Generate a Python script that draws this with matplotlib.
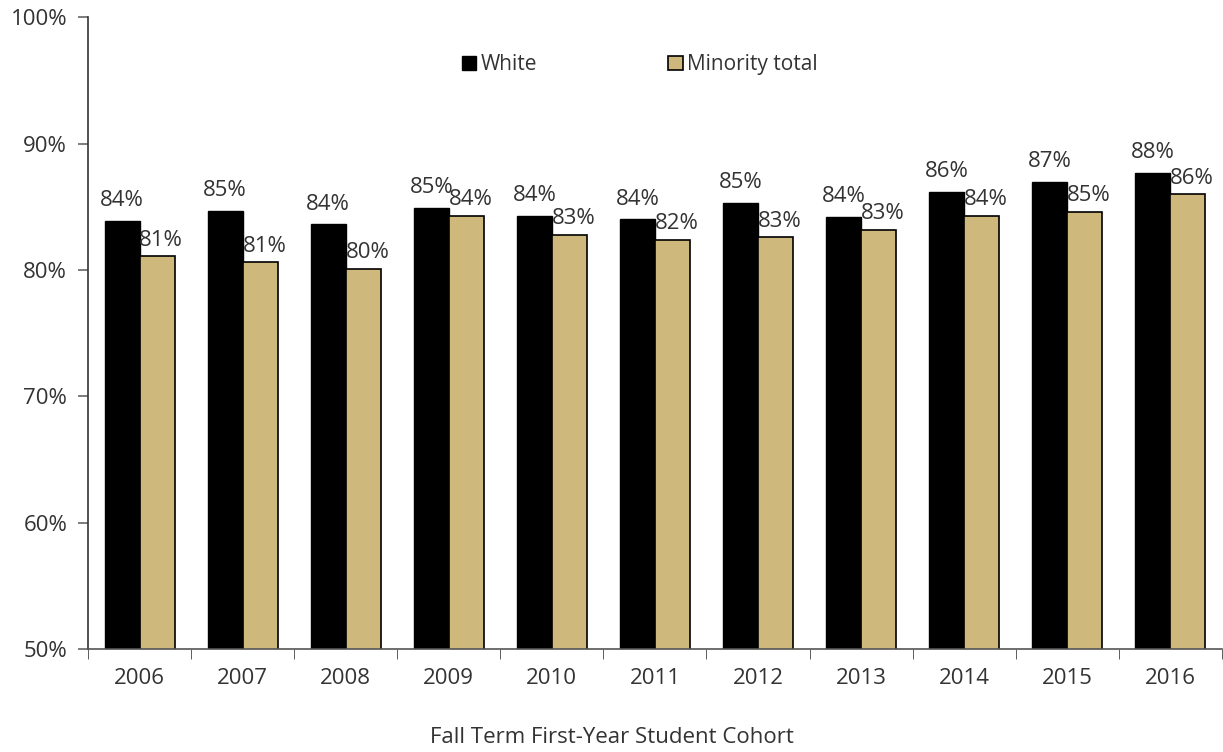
import matplotlib.pyplot as plt
import numpy as np

# Dados
anos = ['2006', '2007', '2008', '2009', '2010', '2011', '2012', '2013', '2014', '2015', '2016']
white = [83.9, 84.7, 83.6, 84.9, 84.3, 84.0, 85.3, 84.2, 86.2, 87.0, 87.7]
minority = [81.1, 80.6, 80.1, 84.3, 82.8, 82.4, 82.6, 83.2, 84.3, 84.6, 86.0]
white_labels = ['84%', '85%', '84%', '85%', '84%', '84%', '85%', '84%', '86%', '87%', '88%']
minority_labels = ['81%', '81%', '80%', '84%', '83%', '82%', '83%', '83%', '84%', '85%', '86%']

plt.rcParams['font.family'] = ['Open Sans', 'DejaVu Sans']

fig = plt.figure(figsize=(12.23, 7.52), dpi=100)
ax = fig.add_axes([0.072, 0.137, 0.927, 0.840])

x = np.arange(len(anos))
w = 0.34
ouro = '#CFB87C'
texto = '#333333'
fs = 16

b1 = ax.bar(x - w / 2, white, w, color='black', edgecolor='black', linewidth=1, label='White')
b2 = ax.bar(x + w / 2, minority, w, color=ouro, edgecolor='black', linewidth=1.2, label='Minority total')

for i in range(len(anos)):
    ax.annotate(white_labels[i], (x[i] - w / 2, white[i]), xytext=(0, 7), textcoords='offset points',
                ha='center', va='bottom', fontsize=fs, color=texto)
    ax.annotate(minority_labels[i], (x[i] + w / 2, minority[i]), xytext=(3, 4), textcoords='offset points',
                ha='center', va='bottom', fontsize=fs, color=texto)

ax.set_ylim(50, 100)
ax.set_xlim(-0.5, len(anos) - 0.5)
ax.set_yticks(range(50, 101, 10))
ax.set_yticklabels([f'{v}%' for v in range(50, 101, 10)], fontsize=fs, color=texto)
ax.set_xticks(x)
ax.set_xticklabels(anos, fontsize=fs, color=texto)
ax.tick_params(axis='x', length=0, pad=14)
ax.set_xticks(np.arange(-0.5, len(anos)), minor=True)
ax.tick_params(axis='x', which='minor', length=7, direction='out', color='#444444')
ax.tick_params(axis='y', length=7, direction='out', color='#666666', width=1.2, pad=8)

for s in ['top', 'right']:
    ax.spines[s].set_visible(False)
ax.spines['left'].set_color('#333333')
ax.spines['bottom'].set_color('#555555')
ax.spines['left'].set_linewidth(1.2)
ax.spines['bottom'].set_linewidth(1.2)

fig.text(0.5, 0.019, 'Fall Term First-Year Student Cohort', ha='center', va='center', fontsize=fs, color=texto)

fig.legend(handles=[b1, b2], loc='center', bbox_to_anchor=(0.523, 0.914), ncol=2, frameon=False,
           fontsize=15, handlelength=0.7, handleheight=0.7, handletextpad=0.2, columnspacing=6.3,
           labelcolor=texto)

plt.savefig('out.png', dpi=100)
